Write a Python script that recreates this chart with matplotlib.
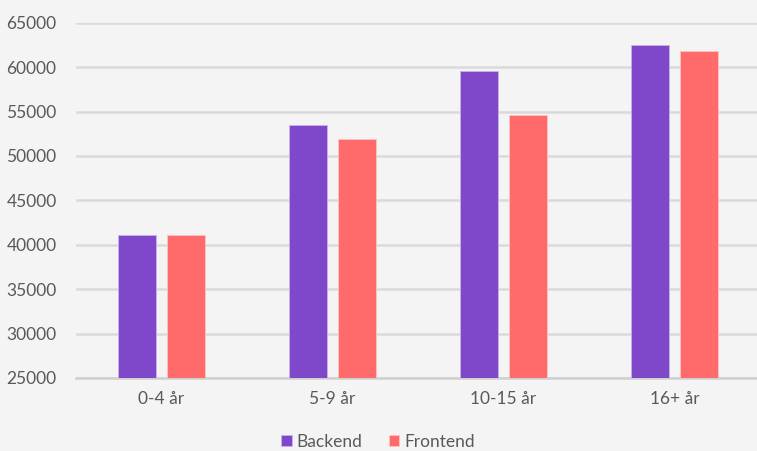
import numpy as np
import matplotlib.pyplot as plt

# data
categories = ['0-4 år', '5-9 år', '10-15 år', '16+ år']
backend = [41100, 53450, 59600, 62450]
frontend = [41100, 51900, 54600, 61850]

bg = '#f4f4f4'
txt = '#595959'

plt.rcParams['font.family'] = ['Lato', 'DejaVu Sans']

fig = plt.figure(figsize=(7.57, 4.51), dpi=100, facecolor=bg)
ax = fig.add_axes([76 / 757, 1 - 378 / 451, 1 - 76 / 757 + 0.004, (378 - 22.7) / 451])
ax.set_facecolor(bg)

x = np.arange(len(categories))
w = 0.225
off = 0.144
ax.bar(x - off, backend, w, color='#7f48cb', label='Backend', zorder=3,
       edgecolor='#c9b3ea', linewidth=0.6)
ax.bar(x + off, frontend, w, color='#ff6b6b', label='Frontend', zorder=3,
       edgecolor='#ffc2c2', linewidth=0.6)

ax.set_ylim(25000, 65000)
ax.set_xlim(-0.5, 3.5)
ax.set_yticks(range(25000, 65001, 5000))
ax.set_xticks(x)
ax.set_xticklabels(categories)
ax.yaxis.grid(True, color='#dadada', linewidth=1.8, zorder=0)
ax.set_axisbelow(True)

for s in ['top', 'right', 'left']:
    ax.spines[s].set_visible(False)
ax.spines['bottom'].set_color('#d0d0d0')
ax.spines['bottom'].set_linewidth(1.8)
ax.tick_params(axis='both', length=0, labelsize=12.5, colors=txt)
ax.tick_params(axis='y', pad=14)
ax.tick_params(axis='x', pad=9)

leg = fig.legend(loc='center', bbox_to_anchor=(378 / 757, 1 - 442 / 451), ncol=2,
                 frameon=False, fontsize=12.5, handlelength=0.6, handleheight=0.6,
                 handletextpad=0.3, columnspacing=1.5)
for t in leg.get_texts():
    t.set_color(txt)

fig.savefig('out.png', dpi=100, facecolor=bg)
